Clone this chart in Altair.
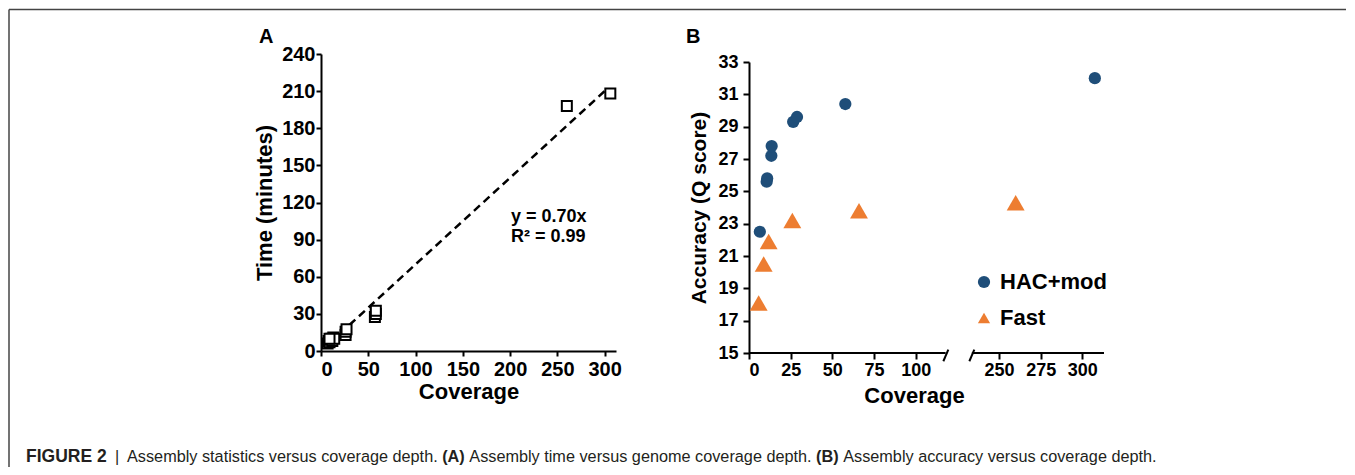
import altair as alt
import pandas as pd

FONT = "Liberation Sans"

# ---------------- Panel A : assembly time vs coverage ----------------
a_coverage = [7, 8, 9, 10, 11, 12, 13, 14, 9, 26, 26, 27, 57, 58, 58, 260, 306]
a_time = [6, 8, 7, 9, 10, 8, 11, 10, 10, 13, 15.5, 17.5, 27.5, 30, 32.5, 198, 208]
a_trend_slope = 0.70
a_trend_x = [30, 302]
a_eq_lines = ["y = 0.70x", "R² = 0.99"]
a_x_ticks = [0, 50, 100, 150, 200, 250, 300]
a_y_ticks = [0, 30, 60, 90, 120, 150, 180, 210, 240]

# ---------------- Panel B : accuracy vs coverage ----------------
methods = ["HAC+mod", "Fast"]
hac_coverage = [6.5, 10.6, 10.9, 13.4, 13.6, 26.5, 28.8, 57.8, 307.5]
hac_q = [22.5, 25.6, 25.8, 27.2, 27.8, 29.3, 29.6, 30.4, 32.0]
fast_coverage = [5.8, 8.8, 11.8, 26.0, 66.0, 260.0]
fast_q = [18.1, 20.5, 21.9, 23.2, 23.8, 24.3]
b_x_ticks = [0, 25, 50, 75, 100, 250, 275, 300]
b_y_ticks = [15, 17, 19, 21, 23, 25, 27, 29, 31, 33]

caption_bold = ["FIGURE 2", "(A)", "(B)"]
caption_plain = ["|", "Assembly statistics versus coverage depth.",
                 "Assembly time versus genome coverage depth.",
                 "Assembly accuracy versus coverage depth."]

# ---------------- layout constants ----------------
A_W, A_H = 295, 297
B_W, B_H, B_TOP = 355, 299, 8
BREAK_LO = 117      # last value of the left segment of the broken axis
SHIFT = 100         # values beyond the break are shifted left by this much
B_DOMAIN = [0, 213]
B_YMIN, B_YMAX = 15, 33

axis_common = dict(grid=False, labelOverlap=False)

# ---------------- Panel A ----------------
dfA = pd.DataFrame({"Coverage": a_coverage, "Time": a_time})
dfTrend = pd.DataFrame({"Coverage": a_trend_x})

xA = alt.X("Coverage:Q", scale=alt.Scale(domain=[0, 312], nice=False),
           axis=alt.Axis(values=a_x_ticks, title="Coverage", labelFontSize=20,
                         titleFontSize=22, tickSize=5, labelPadding=3,
                         titlePadding=2, **axis_common))
yA = alt.Y("Time:Q", scale=alt.Scale(domain=[0, 240], nice=False),
           axis=alt.Axis(values=a_y_ticks, title="Time (minutes)", labelFontSize=20,
                         titleFontSize=22, tickSize=5, labelPadding=1,
                         titlePadding=5, **axis_common))

trendA = alt.Chart(dfTrend).transform_calculate(
    Time=f"{a_trend_slope} * datum.Coverage"
).mark_line(color="black", strokeWidth=2.5, strokeDash=[8, 5]).encode(x=xA, y=yA)

pointsA = alt.Chart(dfA).mark_point(
    shape="square", filled=True, fill="white", stroke="black",
    strokeWidth=2, size=100, opacity=1
).encode(x=xA, y=yA)

eqA = alt.layer(*[
    alt.Chart(pd.DataFrame({"t": [line]})).mark_text(
        align="left", baseline="alphabetic", fontSize=18, fontWeight="bold",
        font=FONT, color="black"
    ).encode(text="t:N", x=alt.value(190), y=alt.value(168 + 20 * i))
    for i, line in enumerate(a_eq_lines)
])

labelA = alt.Chart(pd.DataFrame({"t": ["A"]})).mark_text(
    align="left", baseline="alphabetic", fontSize=20, fontWeight="bold",
    font=FONT, color="black"
).encode(text="t:N", x=alt.value(-62), y=alt.value(-11))

chartA = alt.layer(trendA, pointsA, eqA, labelA).properties(width=A_W, height=A_H)

# ---------------- Panel B ----------------
dfHac = pd.DataFrame({"Coverage": hac_coverage, "Q": hac_q, "Method": methods[0]})
dfFast = pd.DataFrame({"Coverage": fast_coverage, "Q": fast_q, "Method": methods[1]})
pos_expr = f"datum.Coverage <= {BREAK_LO} ? datum.Coverage : datum.Coverage - {SHIFT}"
b_tick_pos = [v if v <= BREAK_LO else v - SHIFT for v in b_x_ticks]

xscaleB = alt.Scale(domain=B_DOMAIN, nice=False, zero=False)
yscaleB = alt.Scale(domain=[B_YMIN, B_YMAX], nice=False, zero=False, range=[B_H, B_TOP])

xB = alt.X("pos:Q", scale=xscaleB,
           axis=alt.Axis(values=b_tick_pos,
                         labelExpr=f"datum.value > {BREAK_LO} ? datum.value + {SHIFT} : datum.value",
                         domain=False, title="Coverage", titleX=165, labelFontSize=18,
                         titleFontSize=22, tickSize=6, labelPadding=2, titlePadding=6,
                         **axis_common))
yB = alt.Y("Q:Q", scale=yscaleB,
           axis=alt.Axis(values=b_y_ticks, title="Accuracy (Q score)", labelFontSize=18,
                         titleFontSize=21, tickSize=6, labelPadding=5, titlePadding=8,
                         **axis_common))

color_scale = alt.Scale(domain=methods, range=["#1F4E79", "#ED7D31"])
shape_scale = alt.Scale(domain=methods, range=["circle", "triangle-up"])
# legend coordinates are measured from the top-left of panel A's plot area
legendB = alt.Legend(orient="none", legendX=652, legendY=217, title=None,
                     labelFontSize=22, labelFontWeight="bold", labelFont=FONT,
                     labelColor="black", symbolSize=150, rowPadding=14,
                     labelOffset=5, symbolStrokeWidth=0)

def series_layer(df, size):
    return alt.Chart(df).transform_calculate(pos=pos_expr).mark_point(
        filled=True, size=size, opacity=1
    ).encode(
        x=xB, y=yB,
        color=alt.Color("Method:N", scale=color_scale, legend=legendB),
        shape=alt.Shape("Method:N", scale=shape_scale, legend=legendB),
    )

hacB = series_layer(dfHac, 150)
fastB = series_layer(dfFast, 320)

# broken x axis line and break marks (same scales as the data)
axis_segments = pd.DataFrame({"pos": [0, 133.7], "pos2": [118, B_DOMAIN[1]],
                              "Q": [B_YMIN, B_YMIN]})
axisB = alt.Chart(axis_segments).mark_rule(color="black", strokeWidth=2).encode(
    x=xB, x2="pos2:Q", y=yB)
breaks = pd.DataFrame({"pos": [116.6, 132.2], "pos2": [119.6, 135.2],
                       "Q": [14.49, 14.49], "Q2": [15.21, 15.21]})
breakB = alt.Chart(breaks).mark_rule(color="black", strokeWidth=2).encode(
    x=xB, x2="pos2:Q", y=yB, y2="Q2:Q")

labelB = alt.Chart(pd.DataFrame({"t": ["B"]})).mark_text(
    align="left", baseline="alphabetic", fontSize=20, fontWeight="bold",
    font=FONT, color="black"
).encode(text="t:N", x=alt.value(-63), y=alt.value(-11))

chartB = alt.layer(hacB, fastB, axisB, breakB, labelB).properties(width=B_W, height=B_H)

# ---------------- caption + frame ----------------
frame = pd.DataFrame({"x": [-312, -312], "x2": [-312, 1025],
                      "y": [-431.5, -431.5], "y2": [26, -431.5]})
frameL = alt.Chart(frame).mark_rule(color="#444444", strokeWidth=1.5).encode(
    x=alt.X("x:Q", scale=None), x2="x2:Q", y=alt.Y("y:Q", scale=None), y2="y2:Q")

bold_x = [-295, 121.2, 495.1]
plain_x = [-206, -194, 148.3, 522.2]
cap_layers = []
for t, xp in zip(caption_bold, bold_x):
    cap_layers.append(alt.Chart(pd.DataFrame({"t": [t]})).mark_text(
        align="left", baseline="alphabetic", fontSize=17.5 if t.startswith("FIG") else 16.25,
        fontWeight="bold", font=FONT, color="#231F20"
    ).encode(text="t:N", x=alt.value(xp), y=alt.value(20.8)))
for t, xp in zip(caption_plain, plain_x):
    cap_layers.append(alt.Chart(pd.DataFrame({"t": [t]})).mark_text(
        align="left", baseline="alphabetic", fontSize=16.25,
        fontWeight="normal", font=FONT, color="#231F20"
    ).encode(text="t:N", x=alt.value(xp), y=alt.value(20.8)))

caption = alt.layer(frameL, *cap_layers).properties(width=1, height=20)

chart = alt.concat(
    chartA, chartB, caption, columns=2,
    spacing={"row": 88, "column": 133}, bounds="flush", align="each"
).properties(padding=0).configure_view(stroke=None).configure_axis(
    labelFont=FONT, titleFont=FONT, labelFontWeight="bold", titleFontWeight="bold",
    labelColor="black", titleColor="black", domainColor="black", tickColor="black",
    domainWidth=2, tickWidth=2
)

chart.save("out.html", embed_options={"renderer": "svg", "actions": False})
